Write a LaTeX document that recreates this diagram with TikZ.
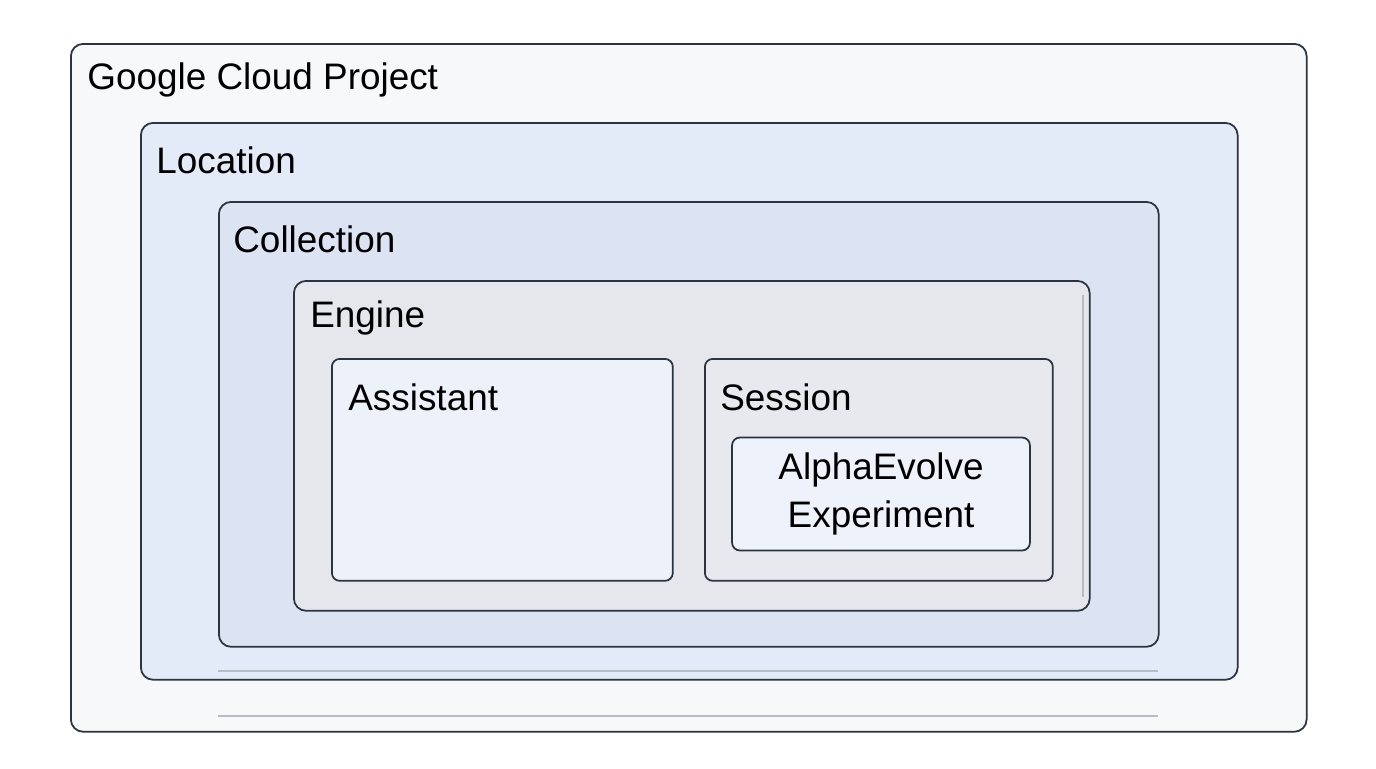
\documentclass[tikz,border=0pt]{standalone}
\usepackage{fontspec}
\setmainfont{Liberation Sans}
\usepackage{xcolor}
\usetikzlibrary{positioning}

\definecolor{edge}{HTML}{2B3440}
\definecolor{projfill}{HTML}{F7F8F9}
\definecolor{locfill}{HTML}{E3EAF8}
\definecolor{collfill}{HTML}{DCE3F2}
\definecolor{engfill}{HTML}{E5E7EC}
\definecolor{asstfill}{HTML}{EDF2FA}
\definecolor{sessfill}{HTML}{E7E9EE}
\definecolor{expfill}{HTML}{EEF3FB}
\definecolor{rulegray}{HTML}{B8BCC4}

\begin{document}
\begin{tikzpicture}[x=0.02cm,y=-0.02cm,
  font=\fontsize{21}{25}\selectfont,
  box/.style={draw=edge,line width=1pt,rounded corners=7pt,anchor=north west,inner sep=0pt},
  lbl/.style={anchor=west,inner sep=0pt,text=black},
  rule/.style={draw=rulegray,line width=0.8pt}]
  \useasboundingbox[fill=white] (0,0) rectangle (1376,768);
  % nested containers
  \node[box,fill=projfill,minimum width=24.72cm,minimum height=13.76cm] (proj) at (70,43) {};
  \node[box,fill=locfill,minimum width=21.94cm,minimum height=11.14cm] (loc) at (140,122) {};
  \node[box,fill=collfill,minimum width=18.8cm,minimum height=8.9cm] (coll) at (218,201) {};
  \node[box,fill=engfill,minimum width=15.92cm,minimum height=6.6cm] (eng) at (293,280) {};
  \node[box,fill=asstfill,rounded corners=4.5pt,minimum width=6.82cm,minimum height=4.44cm] (asst) at (331,358) {};
  \node[box,fill=sessfill,rounded corners=4.5pt,minimum width=6.96cm,minimum height=4.44cm] (sess) at (704,358) {};
  \node[box,fill=expfill,rounded corners=4.5pt,minimum width=5.96cm,minimum height=2.26cm,
    anchor=center,align=center] (exp) at (881,494) {AlphaEvolve\\[2pt]Experiment};
  % titles
  \node[lbl] (projt) at (87,80) {Google Cloud Project};
  \node[lbl] (loct) at (156,160) {Location};
  \node[lbl] (collt) at (233,239) {Collection};
  \node[lbl] (engt) at (310,318) {Engine};
  \node[lbl] (asstt) at (348,397) {Assistant};
  \node[lbl] (sesst) at (720,397) {Session};
  % faint rules
  \draw[rule] (218,671) -- (1158,671);
  \draw[rule] (218,716) -- (1158,716);
  \draw[rule,line width=0.6pt] (1083,295) -- (1083,597);
\end{tikzpicture}
\end{document}
